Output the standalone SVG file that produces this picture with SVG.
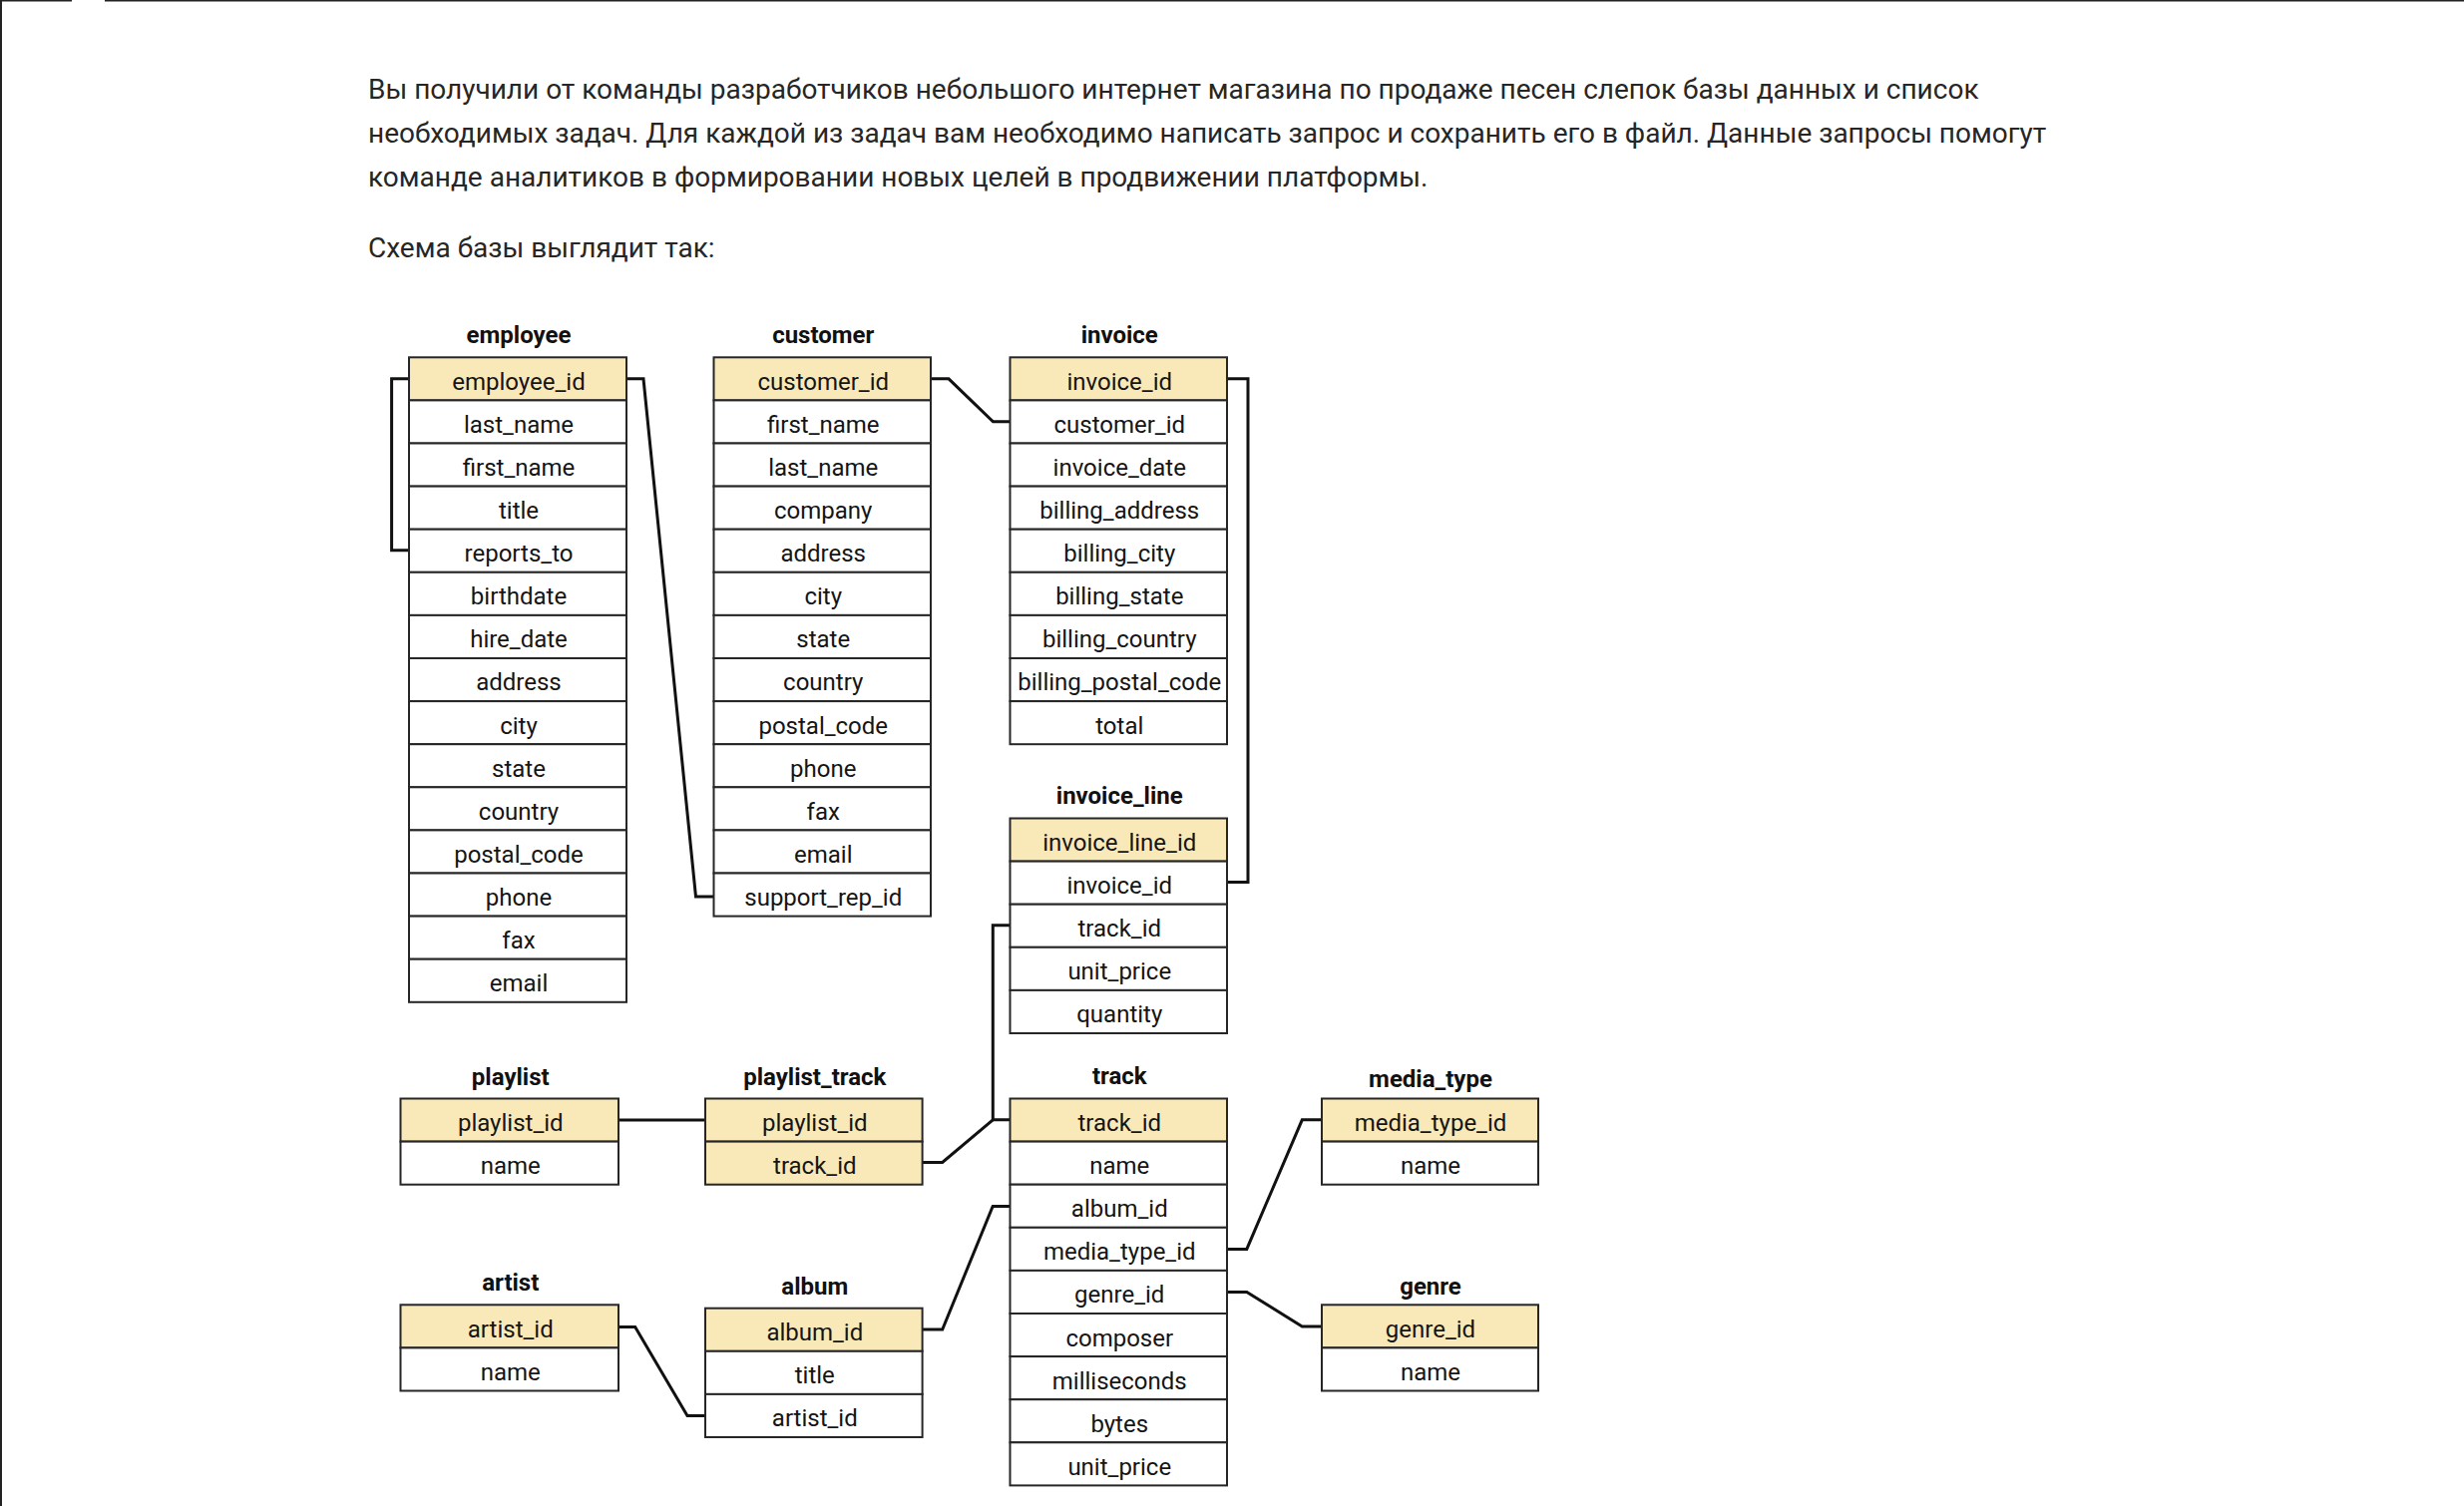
<svg xmlns="http://www.w3.org/2000/svg" width="2470" height="1510" viewBox="0 0 2470 1510">
  <style>
    .para { font-family: Roboto, "Noto Sans", "Liberation Sans", sans-serif; font-size: 28px; fill: #262626; }
    .title { font-family: Roboto, "Noto Sans", "Liberation Sans", sans-serif; font-size: 24px; font-weight: bold; fill: #111; text-anchor: middle; }
    .cell { font-family: Roboto, "Noto Sans", "Liberation Sans", sans-serif; font-size: 24px; fill: #151515; text-anchor: middle; }
    .pk { fill: #fae9b8; stroke: #262626; stroke-width: 2; }
    .col { fill: #ffffff; stroke: #262626; stroke-width: 2; }
    .link { fill: none; stroke: #111; stroke-width: 3; stroke-linejoin: miter; }
    .frame { fill: none; stroke: #222; }
  </style>

  <rect width="2470" height="1510" fill="#ffffff"/>

  <!-- page frame -->
  <g id="frame">
    <line class="frame" x1="1" y1="0" x2="1" y2="1510" stroke-width="2"/>
    <line class="frame" x1="0" y1="0.75" x2="72" y2="0.75" stroke-width="1.5"/>
    <line class="frame" x1="105" y1="0.75" x2="2470" y2="0.75" stroke-width="1.5"/>
  </g>

  <!-- intro text -->
  <g id="intro">
    <text class="para" x="369" y="99">Вы получили от команды разработчиков небольшого интернет магазина по продаже песен слепок базы данных и список</text>
    <text class="para" x="369" y="143">необходимых задач. Для каждой из задач вам необходимо написать запрос и сохранить его в файл. Данные запросы помогут</text>
    <text class="para" x="369" y="187">команде аналитиков в формировании новых целей в продвижении платформы.</text>
    <text class="para" x="369" y="258">Схема базы выглядит так:</text>
  </g>

  <!-- relations -->
  <g id="connectors">
    <path class="link" d="M410,379.8 H392.6 V551.8 H410"/>
    <path class="link" d="M628,379.8 H645 L697.5,899 H715.5"/>
    <path class="link" d="M933,379.8 H951 L995.5,422.8 H1012.5"/>
    <path class="link" d="M1230,379.8 H1251 V884.5 H1230"/>
    <path class="link" d="M1012.5,927.7 H995.3 V1122.8 H1012.5"/>
    <path class="link" d="M924.6,1165.5 H944.7 L995.3,1122.8"/>
    <path class="link" d="M620,1123 H707"/>
    <path class="link" d="M620,1330.5 H636.7 L689,1419.5 H707"/>
    <path class="link" d="M924.6,1333 H944.7 L995.2,1209.5 H1012.5"/>
    <path class="link" d="M1230,1252.4 H1249.8 L1305.3,1122.8 H1325"/>
    <path class="link" d="M1230,1295.4 H1249.8 L1305.3,1330 H1325"/>
  </g>

  <!-- employee -->
  <g id="employee" transform="translate(410,358.3)">
    <text class="title" x="110" y="-14.5">employee</text>
    <rect class="pk" x="0" y="0" width="218" height="43.1"/>
    <rect class="col" x="0" y="43.1" width="218" height="43.1"/>
    <rect class="col" x="0" y="86.2" width="218" height="43.1"/>
    <rect class="col" x="0" y="129.3" width="218" height="43.1"/>
    <rect class="col" x="0" y="172.4" width="218" height="43.1"/>
    <rect class="col" x="0" y="215.5" width="218" height="43.1"/>
    <rect class="col" x="0" y="258.6" width="218" height="43.1"/>
    <rect class="col" x="0" y="301.7" width="218" height="43.1"/>
    <rect class="col" x="0" y="344.8" width="218" height="43.1"/>
    <rect class="col" x="0" y="387.9" width="218" height="43.1"/>
    <rect class="col" x="0" y="431" width="218" height="43.1"/>
    <rect class="col" x="0" y="474.1" width="218" height="43.1"/>
    <rect class="col" x="0" y="517.2" width="218" height="43.1"/>
    <rect class="col" x="0" y="560.3" width="218" height="43.1"/>
    <rect class="col" x="0" y="603.4" width="218" height="43.1"/>
    <text class="cell" x="110" y="32.5">employee_id</text>
    <text class="cell" x="110" y="75.6">last_name</text>
    <text class="cell" x="110" y="118.7">first_name</text>
    <text class="cell" x="110" y="161.8">title</text>
    <text class="cell" x="110" y="204.9">reports_to</text>
    <text class="cell" x="110" y="248">birthdate</text>
    <text class="cell" x="110" y="291.1">hire_date</text>
    <text class="cell" x="110" y="334.2">address</text>
    <text class="cell" x="110" y="377.3">city</text>
    <text class="cell" x="110" y="420.4">state</text>
    <text class="cell" x="110" y="463.5">country</text>
    <text class="cell" x="110" y="506.6">postal_code</text>
    <text class="cell" x="110" y="549.7">phone</text>
    <text class="cell" x="110" y="592.8">fax</text>
    <text class="cell" x="110" y="635.9">email</text>
  </g>

  <!-- customer -->
  <g id="customer" transform="translate(715.5,358.3)">
    <text class="title" x="109.75" y="-14.5">customer</text>
    <rect class="pk" x="0" y="0" width="217.5" height="43.1"/>
    <rect class="col" x="0" y="43.1" width="217.5" height="43.1"/>
    <rect class="col" x="0" y="86.2" width="217.5" height="43.1"/>
    <rect class="col" x="0" y="129.3" width="217.5" height="43.1"/>
    <rect class="col" x="0" y="172.4" width="217.5" height="43.1"/>
    <rect class="col" x="0" y="215.5" width="217.5" height="43.1"/>
    <rect class="col" x="0" y="258.6" width="217.5" height="43.1"/>
    <rect class="col" x="0" y="301.7" width="217.5" height="43.1"/>
    <rect class="col" x="0" y="344.8" width="217.5" height="43.1"/>
    <rect class="col" x="0" y="387.9" width="217.5" height="43.1"/>
    <rect class="col" x="0" y="431" width="217.5" height="43.1"/>
    <rect class="col" x="0" y="474.1" width="217.5" height="43.1"/>
    <rect class="col" x="0" y="517.2" width="217.5" height="43.1"/>
    <text class="cell" x="109.75" y="32.5">customer_id</text>
    <text class="cell" x="109.75" y="75.6">first_name</text>
    <text class="cell" x="109.75" y="118.7">last_name</text>
    <text class="cell" x="109.75" y="161.8">company</text>
    <text class="cell" x="109.75" y="204.9">address</text>
    <text class="cell" x="109.75" y="248">city</text>
    <text class="cell" x="109.75" y="291.1">state</text>
    <text class="cell" x="109.75" y="334.2">country</text>
    <text class="cell" x="109.75" y="377.3">postal_code</text>
    <text class="cell" x="109.75" y="420.4">phone</text>
    <text class="cell" x="109.75" y="463.5">fax</text>
    <text class="cell" x="109.75" y="506.6">email</text>
    <text class="cell" x="109.75" y="549.7">support_rep_id</text>
  </g>

  <!-- invoice -->
  <g id="invoice" transform="translate(1012.5,358.3)">
    <text class="title" x="109.75" y="-14.5">invoice</text>
    <rect class="pk" x="0" y="0" width="217.5" height="43.1"/>
    <rect class="col" x="0" y="43.1" width="217.5" height="43.1"/>
    <rect class="col" x="0" y="86.2" width="217.5" height="43.1"/>
    <rect class="col" x="0" y="129.3" width="217.5" height="43.1"/>
    <rect class="col" x="0" y="172.4" width="217.5" height="43.1"/>
    <rect class="col" x="0" y="215.5" width="217.5" height="43.1"/>
    <rect class="col" x="0" y="258.6" width="217.5" height="43.1"/>
    <rect class="col" x="0" y="301.7" width="217.5" height="43.1"/>
    <rect class="col" x="0" y="344.8" width="217.5" height="43.1"/>
    <text class="cell" x="109.75" y="32.5">invoice_id</text>
    <text class="cell" x="109.75" y="75.6">customer_id</text>
    <text class="cell" x="109.75" y="118.7">invoice_date</text>
    <text class="cell" x="109.75" y="161.8">billing_address</text>
    <text class="cell" x="109.75" y="204.9">billing_city</text>
    <text class="cell" x="109.75" y="248">billing_state</text>
    <text class="cell" x="109.75" y="291.1">billing_country</text>
    <text class="cell" x="109.75" y="334.2">billing_postal_code</text>
    <text class="cell" x="109.75" y="377.3">total</text>
  </g>

  <!-- invoice_line -->
  <g id="invoice_line" transform="translate(1012.5,820.5)">
    <text class="title" x="109.75" y="-15">invoice_line</text>
    <rect class="pk" x="0" y="0" width="217.5" height="43.1"/>
    <rect class="col" x="0" y="43.1" width="217.5" height="43.1"/>
    <rect class="col" x="0" y="86.2" width="217.5" height="43.1"/>
    <rect class="col" x="0" y="129.3" width="217.5" height="43.1"/>
    <rect class="col" x="0" y="172.4" width="217.5" height="43.1"/>
    <text class="cell" x="109.75" y="32.5">invoice_line_id</text>
    <text class="cell" x="109.75" y="75.6">invoice_id</text>
    <text class="cell" x="109.75" y="118.7">track_id</text>
    <text class="cell" x="109.75" y="161.8">unit_price</text>
    <text class="cell" x="109.75" y="204.9">quantity</text>
  </g>

  <!-- playlist -->
  <g id="playlist" transform="translate(401.5,1101.5)">
    <text class="title" x="110.25" y="-14">playlist</text>
    <rect class="pk" x="0" y="0" width="218.5" height="43.1"/>
    <rect class="col" x="0" y="43.1" width="218.5" height="43.1"/>
    <text class="cell" x="110.25" y="32.5">playlist_id</text>
    <text class="cell" x="110.25" y="75.6">name</text>
  </g>

  <!-- playlist_track -->
  <g id="playlist_track" transform="translate(707,1101.5)">
    <text class="title" x="109.8" y="-14">playlist_track</text>
    <rect class="pk" x="0" y="0" width="217.6" height="43.1"/>
    <rect class="pk" x="0" y="43.1" width="217.6" height="43.1"/>
    <text class="cell" x="109.8" y="32.5">playlist_id</text>
    <text class="cell" x="109.8" y="75.6">track_id</text>
  </g>

  <!-- track -->
  <g id="track" transform="translate(1012.5,1101.5)">
    <text class="title" x="109.75" y="-15">track</text>
    <rect class="pk" x="0" y="0" width="217.5" height="43.1"/>
    <rect class="col" x="0" y="43.1" width="217.5" height="43.1"/>
    <rect class="col" x="0" y="86.2" width="217.5" height="43.1"/>
    <rect class="col" x="0" y="129.3" width="217.5" height="43.1"/>
    <rect class="col" x="0" y="172.4" width="217.5" height="43.1"/>
    <rect class="col" x="0" y="215.5" width="217.5" height="43.1"/>
    <rect class="col" x="0" y="258.6" width="217.5" height="43.1"/>
    <rect class="col" x="0" y="301.7" width="217.5" height="43.1"/>
    <rect class="col" x="0" y="344.8" width="217.5" height="43.1"/>
    <text class="cell" x="109.75" y="32.5">track_id</text>
    <text class="cell" x="109.75" y="75.6">name</text>
    <text class="cell" x="109.75" y="118.7">album_id</text>
    <text class="cell" x="109.75" y="161.8">media_type_id</text>
    <text class="cell" x="109.75" y="204.9">genre_id</text>
    <text class="cell" x="109.75" y="248">composer</text>
    <text class="cell" x="109.75" y="291.1">milliseconds</text>
    <text class="cell" x="109.75" y="334.2">bytes</text>
    <text class="cell" x="109.75" y="377.3">unit_price</text>
  </g>

  <!-- media_type -->
  <g id="media_type" transform="translate(1325,1101.5)">
    <text class="title" x="109" y="-12">media_type</text>
    <rect class="pk" x="0" y="0" width="217" height="43.1"/>
    <rect class="col" x="0" y="43.1" width="217" height="43.1"/>
    <text class="cell" x="109" y="32.5">media_type_id</text>
    <text class="cell" x="109" y="75.6">name</text>
  </g>

  <!-- artist -->
  <g id="artist" transform="translate(401.5,1308.3)">
    <text class="title" x="110.25" y="-14.5">artist</text>
    <rect class="pk" x="0" y="0" width="218.5" height="43.1"/>
    <rect class="col" x="0" y="43.1" width="218.5" height="43.1"/>
    <text class="cell" x="110.25" y="32.5">artist_id</text>
    <text class="cell" x="110.25" y="75.6">name</text>
  </g>

  <!-- album -->
  <g id="album" transform="translate(707,1311.7)">
    <text class="title" x="109.8" y="-14.2">album</text>
    <rect class="pk" x="0" y="0" width="217.6" height="43.1"/>
    <rect class="col" x="0" y="43.1" width="217.6" height="43.1"/>
    <rect class="col" x="0" y="86.2" width="217.6" height="43.1"/>
    <text class="cell" x="109.8" y="32.5">album_id</text>
    <text class="cell" x="109.8" y="75.6">title</text>
    <text class="cell" x="109.8" y="118.7">artist_id</text>
  </g>

  <!-- genre -->
  <g id="genre" transform="translate(1325,1308.3)">
    <text class="title" x="109" y="-10.8">genre</text>
    <rect class="pk" x="0" y="0" width="217" height="43.1"/>
    <rect class="col" x="0" y="43.1" width="217" height="43.1"/>
    <text class="cell" x="109" y="32.5">genre_id</text>
    <text class="cell" x="109" y="75.6">name</text>
  </g>
</svg>
